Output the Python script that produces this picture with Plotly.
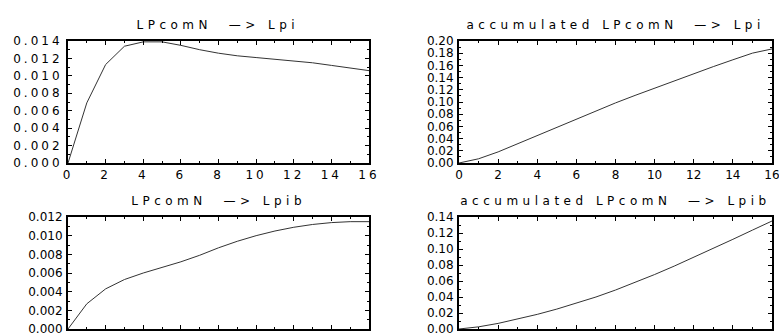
import plotly.graph_objects as go

# Impulse responses over a 16-period horizon
horizon = list(range(17))

lpi_response = [0.0, 0.0069, 0.0113, 0.0134, 0.0139, 0.0139, 0.0135, 0.0130, 0.0126,
                0.0123, 0.0121, 0.0119, 0.0117, 0.0115, 0.0112, 0.0109, 0.0106]
lpi_accumulated = [0.0, 0.0069, 0.0182, 0.0316, 0.0455, 0.0594, 0.0729, 0.0859, 0.0985,
                   0.1108, 0.1229, 0.1348, 0.1465, 0.1580, 0.1692, 0.1801, 0.1870]

lpib_response = [0.0, 0.0027, 0.0043, 0.0053, 0.0060, 0.0066, 0.0072, 0.0079, 0.0087,
                 0.0094, 0.0100, 0.0105, 0.0109, 0.0112, 0.0114, 0.0115, 0.0115]
lpib_accumulated = [0.0, 0.0027, 0.0070, 0.0123, 0.0183, 0.0249, 0.0321, 0.0400, 0.0487,
                    0.0581, 0.0681, 0.0786, 0.0895, 0.1007, 0.1121, 0.1236, 0.1350]

titles = ["LPcomN  \u2014> Lpi", "accumulated LPcomN  \u2014> Lpi",
          "LPcomN  \u2014> Lpib", "accumulated LPcomN  \u2014> Lpib"]
y_ranges = [(0.0, 0.014, 0.002, "%.3f"), (0.0, 0.20, 0.02, "%.2f"),
            (0.0, 0.012, 0.002, "%.3f"), (0.0, 0.14, 0.02, "%.2f")]
x_ticks = list(range(0, 17, 2))

W, H = 779, 336
x_domains = [(68 / W, 369 / W), (459 / W, 772 / W)]
y_domains = [(1 - 163 / H, 1 - 41 / H), (1 - 329 / H, 1 - 217 / H)]

FONT = "DejaVu Sans"
series = [lpi_response, lpi_accumulated, lpib_response, lpib_accumulated]

fig = go.Figure()
layout = dict(width=W, height=H, margin=dict(l=0, r=0, t=0, b=0),
              paper_bgcolor="white", plot_bgcolor="white", showlegend=False,
              font=dict(family=FONT, size=12, color="black"), annotations=[])

for i, ys in enumerate(series):
    row, col = divmod(i, 2)
    n = "" if i == 0 else str(i + 1)
    fig.add_trace(go.Scatter(x=horizon, y=ys, mode="lines",
                             line=dict(color="#333333", width=1),
                             xaxis="x" + n, yaxis="y" + n, hoverinfo="skip"))
    lo, hi, step, fmt = y_ranges[i]
    nt = int(round((hi - lo) / step))
    yt = [lo + k * step for k in range(nt + 1)]
    axis_common = dict(showline=True, mirror="allticks", linecolor="black", linewidth=2,
                       ticks="inside", tickcolor="black", ticklen=4, tickwidth=1,
                       showgrid=False, zeroline=False, fixedrange=True, automargin=False,
                       ticklabeloverflow="allow",
                       tickfont=dict(family=FONT, size=12, color="black"))
    layout["xaxis" + n] = dict(axis_common, domain=x_domains[col], range=[0, 16],
                               anchor="y" + n, tickvals=x_ticks,
                               ticktext=[str(v) for v in x_ticks],
                               minor=dict(ticks="inside", ticklen=2, dtick=1,
                                          tickcolor="black", showgrid=False),
                               ticklabelstandoff=0)
    layout["yaxis" + n] = dict(axis_common, domain=y_domains[row], range=[lo, hi],
                               anchor="x" + n, tickvals=yt,
                               ticktext=[fmt % v for v in yt],
                               minor=dict(ticks="inside", ticklen=2,
                                          tickvals=[lo + (k + 0.5) * step for k in range(nt)],
                                          tickcolor="black", showgrid=False),
                               ticklabelstandoff=1)
    xc = sum(x_domains[col]) / 2
    layout["annotations"].append(dict(text=titles[i], xref="paper", yref="paper",
                                      x=xc, y=y_domains[row][1], yshift=7,
                                      xanchor="center", yanchor="bottom",
                                      showarrow=False,
                                      font=dict(family=FONT, size=12, color="black")))

fig.update_layout(**layout)

# widen the lettering of tick labels and panel titles
spacing_js = """
var gd = document.getElementById('{plot_id}');
gd.querySelectorAll('.xtick text, .ytick text').forEach(function (t) {
    t.style.letterSpacing = '3px';
});
gd.querySelectorAll('.annotation-text').forEach(function (t) {
    t.style.letterSpacing = '4.5px';
});
"""
fig.write_html("out.html", post_script=spacing_js)
